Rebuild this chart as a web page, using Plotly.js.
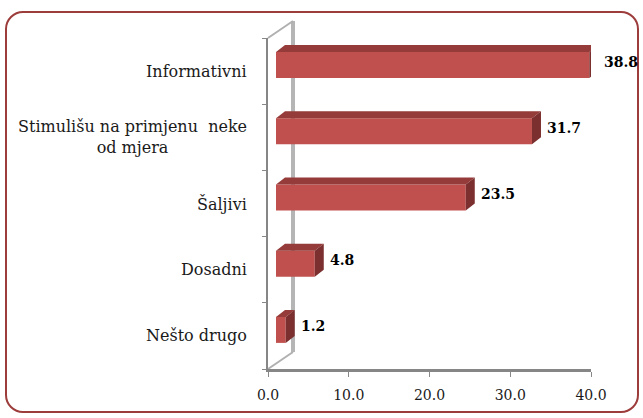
<!DOCTYPE html>
<html>
<head>
<meta charset="utf-8">
<script src="https://cdn.plot.ly/plotly-3.0.1.min.js"></script>
<style>
  html, body { margin: 0; padding: 0; background: #ffffff; }
  #wrap { position: relative; width: 643px; height: 418px; overflow: hidden; }
  #frame { position: absolute; left: 5px; top: 11px; width: 634px; height: 402px;
           border: 2px solid #9c3c3b; border-radius: 18px; box-sizing: border-box; }
  #chart { position: absolute; left: 0; top: 0; width: 643px; height: 418px; }
</style>
</head>
<body>
<div id="wrap">
  <div id="frame"></div>
  <div id="chart"></div>
</div>
<script>
// ---- data ----
const categories = ["Nešto drugo", "Dosadni", "Šaljivi", "Stimulišu na primjenu  neke<br>od mjera", "Informativni"];
const values = [1.2, 4.8, 23.5, 31.7, 38.8];
const xTickVals = [0, 10, 20, 30, 40];
const xTickText = ["0.0", "10.0", "20.0", "30.0", "40.0"];

// ---- geometry (plot area in px) ----
const W = 643, H = 418;
const L = 268, R = 591, T = 38, B = 369;
const xMax = 40;
const pxX = xMax / (R - L);          // data units per px (x)
const pxY = 5 / (B - T);             // data units per px (y)
const frontOffX = 8 * pxX, frontOffY = 6 * pxY;   // bar front face offset into depth
const depX = 9 * pxX, depY = 7 * pxY;             // bar depth
const barH = 26 * pxY;                            // bar thickness

const idx = categories.map((c, i) => i);
const yc = idx.map(i => i + frontOffY);

// front faces via bar trace
const front = {
  type: 'bar', orientation: 'h',
  x: values, y: yc, base: values.map(() => frontOffX),
  width: barH, cliponaxis: false,
  marker: { color: '#c0504d', line: { width: 0 } },
  hoverinfo: 'skip', showlegend: false
};

// top & side faces
const topX = [], topY = [], sideX = [], sideY = [];
values.forEach((v, i) => {
  const x0 = frontOffX, x1 = frontOffX + v;
  const yt = yc[i] + barH / 2, yb = yc[i] - barH / 2;
  topX.push(x0, x1, x1 + depX, x0 + depX, x0, null);
  topY.push(yt, yt, yt + depY, yt + depY, yt, null);
  sideX.push(x1, x1, x1 + depX, x1 + depX, x1, null);
  sideY.push(yb, yt, yt + depY, yb + depY, yb, null);
});
const topFace = { type: 'scatter', mode: 'lines', x: topX, y: topY, fill: 'toself', cliponaxis: false,
  fillcolor: '#953b39', line: { width: 0, color: '#953b39' }, hoverinfo: 'skip', showlegend: false };
const sideFace = { type: 'scatter', mode: 'lines', x: sideX, y: sideY, fill: 'toself', cliponaxis: false,
  fillcolor: '#7b2f2e', line: { width: 0, color: '#7b2f2e' }, hoverinfo: 'skip', showlegend: false };
// dummy trace for boundary ticks axis
const tickTrace = { type: 'scatter', x: [null], y: [null], yaxis: 'y2', hoverinfo: 'skip', showlegend: false };

const serif = "DejaVu Serif, serif";
const annotations = [];
categories.forEach((c, i) => {
  annotations.push({
    xref: 'paper', yref: 'y', x: 0, y: i, xanchor: 'right', yanchor: 'middle',
    xshift: -19, text: c, showarrow: false, align: 'center',
    font: { family: serif, size: 16, color: '#1a1a1a' }
  });
  annotations.push({
    xref: 'paper', yref: 'y', x: (frontOffX + values[i] + depX) / xMax, y: yc[i] + depY / 2,
    xanchor: 'left', yanchor: 'middle', xshift: 4,
    text: '<b>' + values[i].toFixed(1) + '</b>', showarrow: false,
    font: { family: serif, size: 14, color: '#000000' }
  });
});

const bx = 25 / (R - L), by = 17 / (B - T);
const shapes = [
  { type: 'line', xref: 'paper', yref: 'paper', x0: bx, x1: bx, y0: by, y1: 1 + by,
    line: { color: '#b5b5b5', width: 4 }, layer: 'below' },
  { type: 'line', xref: 'paper', yref: 'paper', x0: 0, x1: bx, y0: 1, y1: 1 + by,
    line: { color: '#b0b0b0', width: 2 }, layer: 'below' },
  { type: 'line', xref: 'paper', yref: 'paper', x0: 0, x1: bx, y0: 0, y1: by,
    line: { color: '#b0b0b0', width: 2 }, layer: 'below' }
];

const layout = {
  width: W, height: H,
  margin: { l: L, r: W - R, t: T, b: H - B },
  paper_bgcolor: 'rgba(0,0,0,0)', plot_bgcolor: 'rgba(0,0,0,0)',
  barmode: 'overlay',
  xaxis: {
    range: [0, xMax], tickvals: xTickVals, ticktext: xTickText,
    ticks: 'outside', ticklen: 5, tickwidth: 1, tickcolor: '#888888', ticklabelstandoff: 6,
    showline: true, linecolor: '#868686', linewidth: 3, showgrid: false, zeroline: false,
    tickfont: { family: serif, size: 14, color: '#1a1a1a' }, fixedrange: true
  },
  yaxis: {
    range: [-0.5, 4.5], showticklabels: false, ticks: '',
    showline: true, linecolor: '#868686', linewidth: 2.5, showgrid: false, zeroline: false, fixedrange: true
  },
  yaxis2: {
    overlaying: 'y', side: 'left', range: [-0.5, 4.5],
    tickvals: [-0.5, 0.5, 1.5, 2.5, 3.5, 4.5], ticks: 'outside', ticklen: 5, tickcolor: '#888888',
    showticklabels: false, showgrid: false, zeroline: false, showline: false, fixedrange: true
  },
  annotations: annotations,
  shapes: shapes,
  showlegend: false
};

Plotly.newPlot('chart', [front, topFace, sideFace, tickTrace], layout, { staticPlot: true });
</script>
</body>
</html>
